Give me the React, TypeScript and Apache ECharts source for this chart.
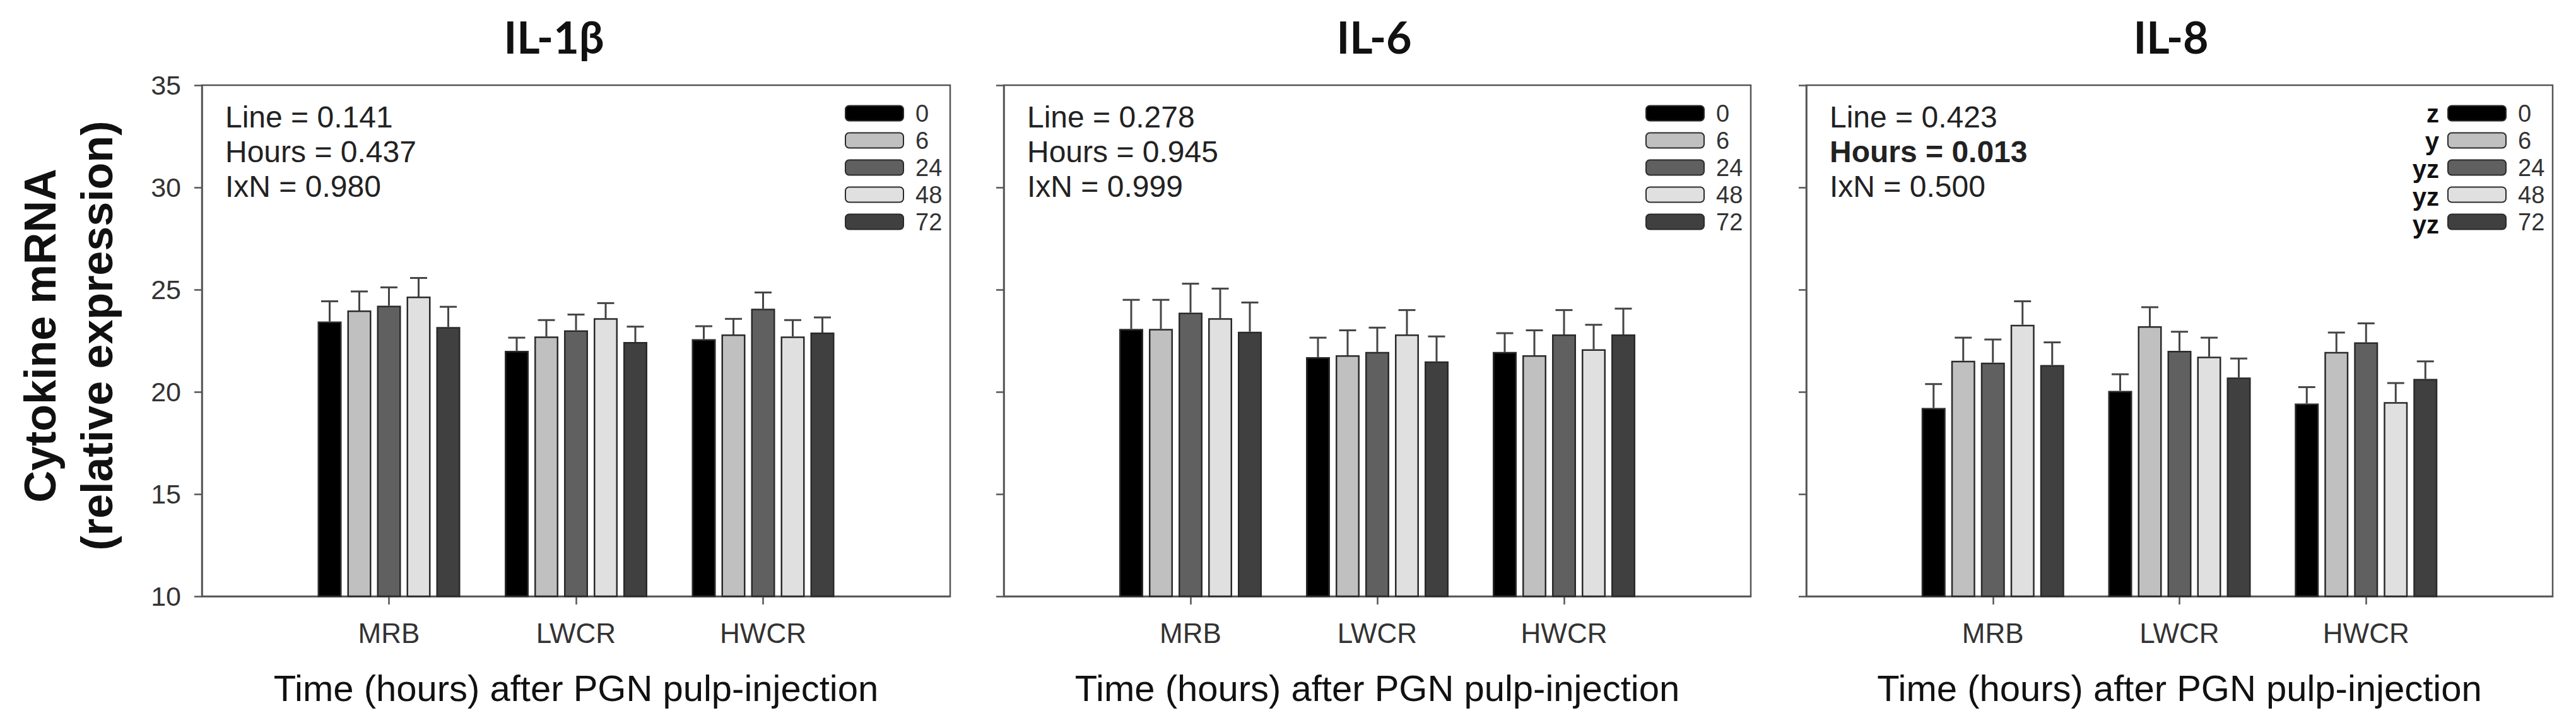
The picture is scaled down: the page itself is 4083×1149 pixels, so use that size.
import React, { useEffect, useRef } from "react";
import * as echarts from "echarts";

// ---------- data ----------
const categories = ["MRB", "LWCR", "HWCR"];
const hours = ["0", "6", "24", "48", "72"];
const panelTitles = ["IL-1β", "IL-6", "IL-8"];

// rows = hours (0, 6, 24, 48, 72), columns = categories (MRB, LWCR, HWCR)
const il1bMeans = [
  [23.44, 22.01, 22.58],
  [23.98, 22.71, 22.81],
  [24.21, 23.01, 24.07],
  [24.66, 23.6, 22.71],
  [23.17, 22.44, 22.9],
];
const il1bErrors = [
  [0.99, 0.64, 0.63],
  [0.93, 0.8, 0.76],
  [0.9, 0.77, 0.79],
  [0.91, 0.74, 0.8],
  [0.99, 0.75, 0.74],
];
const il6Means = [
  [23.08, 21.7, 21.95],
  [23.08, 21.79, 21.79],
  [23.87, 21.95, 22.81],
  [23.6, 22.81, 22.08],
  [22.94, 21.49, 22.81],
];
const il6Errors = [
  [1.42, 0.95, 0.92],
  [1.42, 1.22, 1.22],
  [1.42, 1.19, 1.19],
  [1.45, 1.19, 1.2],
  [1.43, 1.22, 1.26],
];
const il8Means = [
  [19.21, 20.05, 19.43],
  [21.52, 23.21, 21.95],
  [21.43, 22.01, 22.42],
  [23.28, 21.72, 19.5],
  [21.31, 20.7, 20.63],
];
const il8Errors = [
  [1.17, 0.81, 0.8],
  [1.13, 0.93, 0.95],
  [1.13, 0.93, 0.93],
  [1.15, 0.93, 0.93],
  [1.11, 0.93, 0.86],
];

const il1bStats = ["Line = 0.141", "Hours = 0.437", "IxN = 0.980"];
const il6Stats = ["Line = 0.278", "Hours = 0.945", "IxN = 0.999"];
const il8Stats = ["Line = 0.423", "Hours = 0.013", "IxN = 0.500"];
const il8BoldStat = [false, true, false];
const il8Letters = ["z", "y", "yz", "yz", "yz"];

const yTicks = { min: 10, max: 35, interval: 5 };
const xAxisName = "Time (hours) after PGN pulp-injection";
const yAxisName = "Cytokine mRNA\n(relative expression)";

// ---------- styles ----------
const barColors = ["#000000", "#c0c0c0", "#606060", "#e0e0e0", "#404040"];
const FONT = "Liberation Sans, Arial, sans-serif";
const BAR_W = 38;
const BAR_GAP = 9;
const PITCH = BAR_W + BAR_GAP;
const CAP = 27;

const grids = [
  { left: 320, top: 135, width: 1186, height: 810 },
  { left: 1591, top: 135, width: 1184, height: 810 },
  { left: 2863, top: 135, width: 1183, height: 810 },
];
const titleCenters = [878, 2178, 3441];

const panels = [
  { means: il1bMeans, errors: il1bErrors, stats: il1bStats },
  { means: il6Means, errors: il6Errors, stats: il6Stats },
  { means: il8Means, errors: il8Errors, stats: il8Stats },
];

const axisCats = ["", ...categories, ""];
const showCat = (i: number) => i >= 1 && i <= categories.length;

const LEG_FIRST_CENTER = 180;
const LEG_PITCH = 44;
const LEG_TEXT_H = 39;

function buildOption() {
  const series: any[] = [];
  const xAxis: any[] = [];
  const yAxis: any[] = [];
  const legend: any[] = [];
  const graphic: any[] = [];

  grids.forEach((g, gi) => {
    xAxis.push({
      type: "category",
      gridIndex: gi,
      data: axisCats,
      boundaryGap: false,
      axisLine: { show: true, lineStyle: { color: "#555", width: 2.5 } },
      axisTick: { show: true, interval: (i: number) => showCat(i), length: 13, lineStyle: { color: "#555", width: 2.5 } },
      axisLabel: {
        interval: (i: number) => showCat(i),
        margin: 36,
        fontFamily: FONT,
        fontSize: 44,
        color: "#333",
      },
      name: xAxisName,
      nameLocation: "middle",
      nameGap: 116,
      nameTextStyle: { fontFamily: FONT, fontSize: 58, color: "#111" },
      splitLine: { show: false },
    });
    yAxis.push({
      type: "value",
      gridIndex: gi,
      min: yTicks.min,
      max: yTicks.max,
      interval: yTicks.interval,
      axisLine: { show: true, lineStyle: { color: "#555", width: 2.5 } },
      axisTick: { show: true, length: 12, lineStyle: { color: "#555", width: 2.5 } },
      axisLabel: {
        show: gi === 0,
        margin: 33,
        fontFamily: FONT,
        fontSize: 43,
        color: "#333",
      },
      splitLine: { show: false },
    });

    const p = panels[gi];
    hours.forEach((h, hi) => {
      series.push({
        type: "bar",
        name: h,
        xAxisIndex: gi,
        yAxisIndex: gi,
        barWidth: BAR_W,
        barGap: `${(BAR_GAP / BAR_W) * 100}%`,
        itemStyle: { color: barColors[hi], borderColor: "#2a2a2a", borderWidth: 2.5 },
        data: p.means[hi].map((v, ci) => [ci + 1, v]),
        z: 2,
      });
    });
    const errData: any[] = [];
    hours.forEach((h, hi) => {
      p.means[hi].forEach((m, ci) => {
        errData.push([ci + 1, m, m + p.errors[hi][ci], hi]);
      });
    });
    series.push({
      type: "custom",
      name: "err" + gi,
      xAxisIndex: gi,
      yAxisIndex: gi,
      z: 3,
      encode: { x: 0, y: 2 },
      data: errData,
      renderItem: (params: any, api: any) => {
        const ci = api.value(0);
        const mean = api.value(1);
        const upper = api.value(2);
        const hi = api.value(3);
        const base = api.coord([ci, mean]);
        const top = api.coord([ci, upper]);
        const x = base[0] + (hi - (hours.length - 1) / 2) * PITCH;
        const st = { stroke: "#454545", lineWidth: 3 };
        return {
          type: "group",
          children: [
            { type: "line", shape: { x1: x, y1: base[1], x2: x, y2: top[1] }, style: st },
            { type: "line", shape: { x1: x - CAP / 2, y1: top[1], x2: x + CAP / 2, y2: top[1] }, style: st },
          ],
        };
      },
    });

    legend.push({
      data: hours,
      orient: "vertical",
      left: g.left + g.width - 167,
      top: LEG_FIRST_CENTER - LEG_TEXT_H / 2,
      padding: 0,
      itemWidth: 92,
      itemHeight: 24,
      itemGap: LEG_PITCH - LEG_TEXT_H,
      selectedMode: false,
      textStyle: { fontFamily: FONT, fontSize: 38, color: "#333", padding: [0, 0, 0, 14] },
    });

    // panel title
    graphic.push({
      type: "text",
      x: titleCenters[gi],
      y: 58,
      style: {
        text: panelTitles[gi],
        fontFamily: "Lato, Noto Sans, sans-serif",
        fontWeight: "bold",
        fontSize: 70,
        fill: "#111",
        textAlign: "center",
        textVerticalAlign: "middle",
      },
    });

    // stats annotation
    p.stats.forEach((s, si) => {
      graphic.push({
        type: "text",
        x: g.left + 37,
        y: 185 + si * 55,
        style: {
          text: s,
          fontFamily: FONT,
          fontSize: 48,
          fontWeight: gi === 2 && il8BoldStat[si] ? "bold" : "normal",
          fill: "#222",
          textAlign: "left",
          textVerticalAlign: "middle",
        },
      });
    });
  });

  // significance letters for IL-8 legend
  il8Letters.forEach((l, i) => {
    graphic.push({
      type: "text",
      x: grids[2].left + grids[2].width - 180,
      y: LEG_FIRST_CENTER + i * LEG_PITCH,
      style: {
        text: l,
        fontFamily: FONT,
        fontSize: 40,
        fontWeight: "bold",
        fill: "#111",
        textAlign: "right",
        textVerticalAlign: "middle",
      },
    });
  });

  // y axis title
  graphic.push({
    type: "text",
    x: 109,
    y: 532,
    rotation: Math.PI / 2,
    style: {
      text: yAxisName,
      fontFamily: FONT,
      fontSize: 70,
      fontWeight: "bold",
      lineHeight: 90,
      fill: "#111",
      textAlign: "center",
      textVerticalAlign: "middle",
    },
  });

  return {
    animation: false,
    backgroundColor: "#ffffff",
    grid: grids.map((g) => ({ ...g, show: true, borderColor: "#555", borderWidth: 2.5, containLabel: false })),
    xAxis,
    yAxis,
    legend,
    series,
    graphic,
  };
}

export default function App() {
  const ref = useRef<HTMLDivElement>(null);
  useEffect(() => {
    if (!ref.current) return;
    const chart = echarts.init(ref.current, undefined, { renderer: "svg" });
    chart.setOption(buildOption() as any);
    return () => chart.dispose();
  }, []);
  return (
    <div
      ref={ref}
      style={{ position: "fixed", left: 0, top: 0, width: 4083, height: 1149, background: "#fff" }}
    />
  );
}
